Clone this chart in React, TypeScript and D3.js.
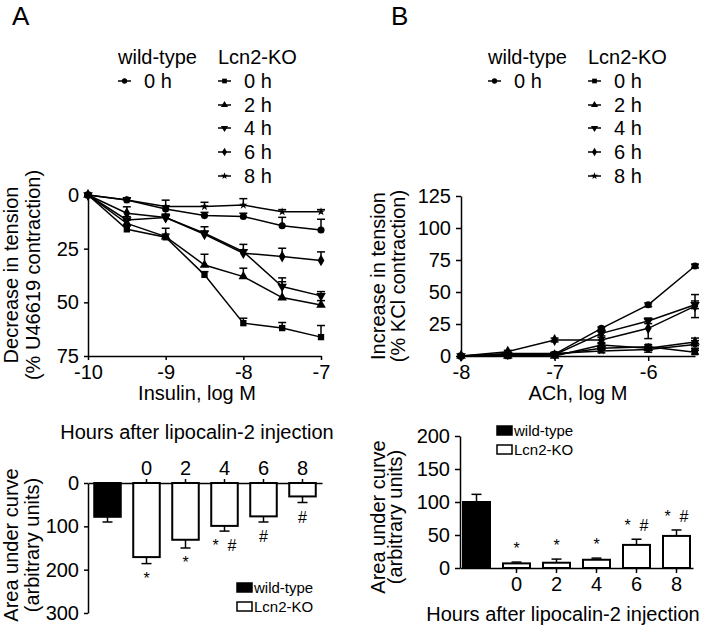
import React, { useEffect, useRef } from "react";
import * as d3 from "d3";

// panel A - insulin relaxation
const insulinLogM = [-10, -9.5, -9, -8.5, -8, -7.5, -7];
const insWT = [0, 2.3, 6.5, 9.6, 10, 14.3, 16.3];
const insKO0 = [0, 16, 19.7, 37.2, 59.7, 62, 66.2];
const insKO2 = [0, 13.2, 19.4, 32.6, 38, 47.8, 51.2];
const insKO4 = [0, 11.6, 10.5, 17.8, 26.4, 42.6, 47];
const insKO6 = [0, 8.5, 10.5, 18.3, 27.1, 28.7, 30.5];
const insKO8 = [0, 2.3, 5.4, 5.4, 4.7, 7.8, 7.8];
const insErrWT = [0, 1, 1.5, 1.5, 1.5, 3.9, 5];
const insErrKO0 = [0, 1.5, 1.5, 1.5, 2.3, 2.6, 5.4];
const insErrKO2 = [0, 1.5, 3.9, 5, 3.9, 7.4, 2];
const insErrKO4 = [0, 1.5, 1.5, 3, 3.4, 4, 2];
const insErrKO6 = [0, 3, 1.5, 1.5, 1.5, 3.9, 4];
const insErrKO8 = [0, 1, 3, 2, 3, 1, 1];

// panel B - ACh contraction
const achLogM = [-8, -7.5, -7, -6.5, -6, -5.5];
const achWT = [0, 1, 1.5, 21.6, 40, 70.3];
const achKO0 = [0, 0, 1, 6, 7.3, 3];
const achKO2 = [0, 0, 0, 8.6, 6, 11];
const achKO4 = [0, 1, 1, 17.7, 27.3, 40];
const achKO6 = [0, 3.4, 12.5, 12.5, 21.6, 39];
const achKO8 = [0, 2, 2, 4, 5, 9];
const achErrWT = [0, 0.5, 0.5, 1, 1.5, 1.5];
const achErrKO0 = [0, 0.5, 0.5, 1, 1.5, 1.5];
const achErrKO2 = [0, 0.5, 0.5, 1, 1.5, 3];
const achErrKO4 = [0, 1, 1, 2, 2, 3];
const achErrKO6 = [0, 1, 1.5, 2, 8, 9];
const achErrKO8 = [0, 1, 1, 1.5, 2, 3];

const shapes = ["circle", "square", "up", "down", "diamond", "star"];
const koHours = ["0 h", "2 h", "4 h", "6 h", "8 h"];

// area under curve bars
const barCats = ["wt", "0", "2", "4", "6", "8"];
const aucIns = [78, 171, 131, 99, 77, 31];
const aucInsErr = [12, 15, 19, 12, 13, 14];
const aucInsSig = ["", "*", "*", "* #", "#", "#"];
const aucAch = [100, 7, 8, 12.5, 35, 48.6];
const aucAchErr = [11.6, 2, 5.5, 2.5, 8.6, 9];
const aucAchSig = ["", "*", "*", "*", "* #", "* #"];

const FONT = "'Liberation Sans', Arial, sans-serif";
const fmt = (d) => String(d);

const symbolOf = (s) =>
  ({
    circle: d3.symbolCircle,
    square: d3.symbolSquare,
    up: d3.symbolTriangle,
    down: d3.symbolTriangle,
    diamond: d3.symbolDiamond,
    star: d3.symbolStar,
  })[s];

function marker(g, shape, x, y, size) {
  g.append("path")
    .attr("d", d3.symbol().type(symbolOf(shape)).size(size)())
    .attr("transform", `translate(${x},${y}) rotate(${shape === "down" ? 180 : 0})`)
    .attr("fill", "black");
}

function styleAxis(g, fontSize = 20) {
  g.selectAll("path, line").attr("stroke", "black").attr("stroke-width", 1.5);
  g.selectAll("text").attr("font-family", FONT).attr("font-size", fontSize).attr("fill", "black");
}

function text(svg, str, x, y, size, anchor = "middle", rotate = false) {
  return svg
    .append("text")
    .attr("transform", `translate(${x},${y})${rotate ? " rotate(-90)" : ""}`)
    .attr("text-anchor", anchor)
    .attr("font-family", FONT)
    .attr("font-size", size)
    .attr("xml:space", "preserve")
    .style("white-space", "pre")
    .text(str);
}

function legend(svg, x1, x2) {
  text(svg, "wild-type", x1, 64, 20, "start");
  text(svg, "Lcn2-KO", x2, 64, 20, "start");
  const rows = [88, 112, 135, 159, 183];
  const item = (x, y, shape, label) => {
    svg.append("line").attr("x1", x).attr("x2", x + 13).attr("y1", y - 7).attr("y2", y - 7)
      .attr("stroke", "black").attr("stroke-width", 1.5);
    marker(svg, shape, x + 6.5, y - 7, shape === "star" ? 16 : 22);
    text(svg, label, x + 26, y, 20, "start");
  };
  item(x1, rows[0], "circle", "0 h");
  koHours.forEach((h, i) => item(x2, rows[i], shapes[i + 1], h));
}

function lineChart(svg, o) {
  const { x, y, xs, series, errs, twoSided } = o;
  const line = d3.line().x((d, i) => x(xs[i])).y((d) => y(d));
  series.forEach((s) => {
    svg.append("path").attr("d", line(s)).attr("fill", "none").attr("stroke", "black").attr("stroke-width", 1.5);
  });
  series.forEach((s, k) => {
    s.forEach((v, i) => {
      const e = errs[k][i];
      if (e < 0.8) return;
      const cx = x(xs[i]);
      const lo = twoSided ? v + e : v;
      const hi = v - e;
      [lo, hi].forEach((end, j) => {
        if (j === 0 && !twoSided) return;
        svg.append("line").attr("x1", cx - 4).attr("x2", cx + 4).attr("y1", y(end)).attr("y2", y(end))
          .attr("stroke", "black").attr("stroke-width", 1.5);
      });
      svg.append("line").attr("x1", cx).attr("x2", cx).attr("y1", y(lo)).attr("y2", y(hi))
        .attr("stroke", "black").attr("stroke-width", 1.5);
    });
  });
  series.forEach((s, k) => {
    s.forEach((v, i) => marker(svg, shapes[k], x(xs[i]), y(v), shapes[k] === "star" ? 22 : 40));
  });
}

function barChart(svg, o) {
  const { x, y, vals, errs, sig, down } = o;
  const bw = x.bandwidth();
  vals.forEach((v, i) => {
    const cx = x(barCats[i]) + bw / 2;
    const y0 = y(0);
    const y1 = y(v);
    const ye = y(v + errs[i]);
    svg.append("line").attr("x1", cx).attr("x2", cx).attr("y1", y1).attr("y2", ye)
      .attr("stroke", "black").attr("stroke-width", 1.5);
    svg.append("line").attr("x1", cx - 5).attr("x2", cx + 5).attr("y1", ye).attr("y2", ye)
      .attr("stroke", "black").attr("stroke-width", 1.5);
    svg.append("rect")
      .attr("x", x(barCats[i]))
      .attr("y", Math.min(y0, y1))
      .attr("width", bw)
      .attr("height", Math.abs(y1 - y0))
      .attr("fill", i === 0 ? "black" : "white")
      .attr("stroke", "black")
      .attr("stroke-width", 2);
    if (sig[i]) text(svg, sig[i].replace(" ", "  "), cx, down ? ye + 20 : ye - 8, 16);
  });
}

function barLegend(svg, x, y1, y2) {
  [["black", "wild-type", y1], ["white", "Lcn2-KO", y2]].forEach(([fill, label, yy]) => {
    svg.append("rect").attr("x", x).attr("y", yy - 10).attr("width", 15).attr("height", 9)
      .attr("fill", fill).attr("stroke", "black").attr("stroke-width", 1.5);
    text(svg, label, x + 17, yy, 15, "start");
  });
}

const App = () => {
  const ref = useRef(null);

  useEffect(() => {
    const svg = d3.select(ref.current);
    svg.selectAll("*").remove();

    // ---------- Panel A ----------
    text(svg, "A", 12, 25, 26, "start");
    legend(svg, 118, 218);

    const xA = d3.scaleLinear().domain([-10, -7]).range([88, 321]);
    const yA = d3.scaleLinear().domain([0, 75]).range([195, 356]);
    styleAxis(svg.append("g").attr("transform", "translate(0,356)")
      .call(d3.axisBottom(xA).tickValues([-10, -9, -8, -7]).tickFormat(fmt).tickSize(4).tickSizeOuter(0).tickPadding(5)));
    styleAxis(svg.append("g").attr("transform", "translate(88,0)")
      .call(d3.axisLeft(yA).tickValues([0, 25, 50, 75]).tickSize(4).tickSizeOuter(0).tickPadding(5)));
    lineChart(svg, {
      x: xA, y: yA, xs: insulinLogM,
      series: [insWT, insKO0, insKO2, insKO4, insKO6, insKO8],
      errs: [insErrWT, insErrKO0, insErrKO2, insErrKO4, insErrKO6, insErrKO8],
      twoSided: false,
    });
    text(svg, "Insulin, log M", 197, 400, 20);
    text(svg, "Decrease in tension", 18, 275, 20, "middle", true);
    text(svg, "(% U46619 contraction)", 40, 275, 20, "middle", true);

    const xAb = d3.scaleBand().domain(barCats).range([88, 322]).paddingInner(0.32).paddingOuter(0.16);
    const yAb = d3.scaleLinear().domain([0, 300]).range([483, 613]);
    text(svg, "Hours after lipocalin-2 injection", 197, 439, 20);
    styleAxis(svg.append("g").attr("transform", "translate(0,483)")
      .call(d3.axisTop(xAb).tickValues(barCats.slice(1)).tickSize(4).tickSizeOuter(0).tickPadding(4)));
    styleAxis(svg.append("g").attr("transform", "translate(88,0)")
      .call(d3.axisLeft(yAb).tickValues([0, 100, 200, 300]).tickSize(4).tickSizeOuter(0).tickPadding(5)));
    barChart(svg, { x: xAb, y: yAb, vals: aucIns, errs: aucInsErr, sig: aucInsSig, down: true });
    barLegend(svg, 237, 593, 612);
    text(svg, "Area under curve", 18, 545, 20, "middle", true);
    text(svg, "(arbitrary units)", 39, 545, 20, "middle", true);

    // ---------- Panel B ----------
    text(svg, "B", 391, 25, 26, "start");
    legend(svg, 488, 588);

    const xB = d3.scaleLinear().domain([-8, -5.5]).range([461, 695]);
    const yB = d3.scaleLinear().domain([0, 125]).range([356, 196]);
    styleAxis(svg.append("g").attr("transform", "translate(0,356)")
      .call(d3.axisBottom(xB).tickValues([-8, -7, -6]).tickFormat(fmt).tickSize(5).tickSizeOuter(0).tickPadding(4)));
    styleAxis(svg.append("g").attr("transform", "translate(461,0)")
      .call(d3.axisLeft(yB).tickValues([0, 25, 50, 75, 100, 125]).tickSize(5).tickSizeOuter(0).tickPadding(5)));
    lineChart(svg, {
      x: xB, y: yB, xs: achLogM,
      series: [achWT, achKO0, achKO2, achKO4, achKO6, achKO8],
      errs: [achErrWT, achErrKO0, achErrKO2, achErrKO4, achErrKO6, achErrKO8],
      twoSided: true,
    });
    text(svg, "ACh, log M", 578, 400, 20);
    text(svg, "Increase in tension", 385, 276, 20, "middle", true);
    text(svg, "(% KCl contraction)", 405, 276, 20, "middle", true);

    const xBb = d3.scaleBand().domain(barCats).range([460, 693]).paddingInner(0.325).paddingOuter(0.075);
    const yBb = d3.scaleLinear().domain([0, 200]).range([568, 436]);
    styleAxis(svg.append("g").attr("transform", "translate(0,568)")
      .call(d3.axisBottom(xBb).tickValues(barCats.slice(1)).tickSize(5).tickSizeOuter(0).tickPadding(4)));
    styleAxis(svg.append("g").attr("transform", "translate(460,0)")
      .call(d3.axisLeft(yBb).tickValues([0, 50, 100, 150, 200]).tickSize(5).tickSizeOuter(0).tickPadding(5)));
    barChart(svg, { x: xBb, y: yBb, vals: aucAch, errs: aucAchErr, sig: aucAchSig, down: false });
    barLegend(svg, 497, 436, 455);
    text(svg, "Hours after lipocalin-2 injection", 563, 621, 20);
    text(svg, "Area under curve", 385, 517, 20, "middle", true);
    text(svg, "(arbitrary units)", 402, 517, 20, "middle", true);
  }, []);

  return (
    <svg
      ref={ref}
      width={709}
      height={628}
      style={{ position: "absolute", left: 0, top: 0, background: "white" }}
    />
  );
};

export default App;
